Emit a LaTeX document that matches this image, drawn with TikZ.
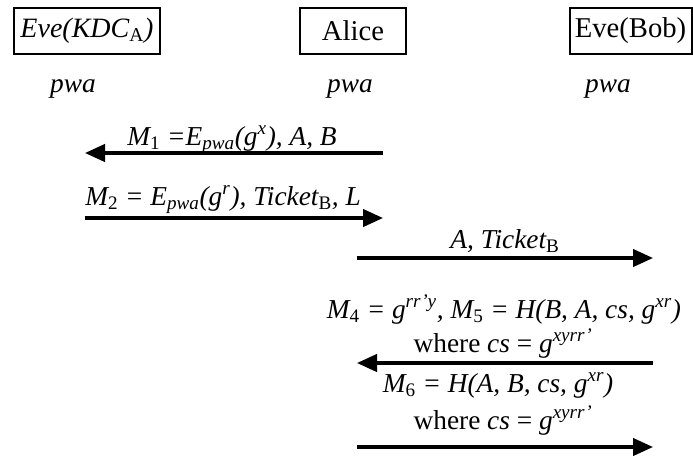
\documentclass[tikz,border=0pt]{standalone}
\usepackage{fontspec}
\setmainfont{Liberation Serif}
\usetikzlibrary{arrows.meta,positioning}
\tikzset{
  partybox/.style={
    rectangle, draw=black, line width=1.5pt,
    minimum height=35pt, inner xsep=2pt, inner ysep=2pt,
    font=\fontsize{21.5}{25}\selectfont
  },
  keylabel/.style={font=\fontsize{20.5}{24}\selectfont\itshape},
  msglabel/.style={anchor=base, inner sep=0pt,
    font=\fontsize{20.5}{24}\selectfont\itshape},
  msgarrow/.style={-{Triangle[length=15pt,width=13pt]}, line width=2.4pt}
}

\begin{document}
\begin{tikzpicture}[x=0.75pt,y=-0.75pt]
  \useasboundingbox (0,0) rectangle (693,455);

  % parties
  \node[partybox, minimum width=110pt, font=\fontsize{21}{25}\selectfont\itshape] (kdc) at (87,31)
    {Eve(KDC\textsubscript{\upshape A})};
  \node[partybox, minimum width=80pt] (alice) at (353,31) {Alice};
  \node[partybox, minimum width=91.5pt] (bob) at (630.5,31) {Eve(Bob)};

  % shared password
  \node[keylabel] (pwkdc) at (73,89) {pwa};
  \node[keylabel] (pwalice) at (350,89) {pwa};
  \node[keylabel] (pwbob) at (608,89) {pwa};

  % arrow ends
  \coordinate (m1from) at (383,153);
  \coordinate (m1to) at (85,153);
  \coordinate (m2from) at (85,218);
  \coordinate (m2to) at (383,218);
  \coordinate (m3from) at (357,258);
  \coordinate (m3to) at (653,258);
  \coordinate (m4from) at (653,363);
  \coordinate (m4to) at (357,363);
  \coordinate (m6from) at (357,447);
  \coordinate (m6to) at (653,447);

  \draw[msgarrow] (m1from) -- (m1to);
  \draw[msgarrow] (m2from) -- (m2to);
  \draw[msgarrow] (m3from) -- (m3to);
  \draw[msgarrow] (m4from) -- (m4to);
  \draw[msgarrow] (m6from) -- (m6to);

  % messages
  \node[msglabel] (msg1) at (232,145)
    {M\textsubscript{\upshape 1} =E\textsubscript{pwa}(g\textsuperscript{x}), A, B};
  \node[msglabel, anchor=base west] (msg2) at (85,205)
    {M\textsubscript{\upshape 2} = E\textsubscript{pwa}(g\textsuperscript{r}), Ticket\textsubscript{\upshape B}, L};
  \node[msglabel] (msg3) at (505,248)
    {A, Ticket\textsubscript{\upshape B}};
  \node[msglabel] (msg4) at (504,318)
    {M\textsubscript{\upshape 4} = g\textsuperscript{rr’y}, M\textsubscript{\upshape 5} = H(B, A, cs, g\textsuperscript{xr})};
  \node[msglabel] (where1) at (503,352)
    {\upshape where \itshape cs \upshape = \itshape g\textsuperscript{xyrr’}};
  \node[msglabel] (msg6) at (498,392)
    {M\textsubscript{\upshape 6} = H(A, B, cs, g\textsuperscript{xr})};
  \node[msglabel] (where2) at (503,429)
    {\upshape where \itshape cs \upshape = \itshape g\textsuperscript{xyrr’}};
\end{tikzpicture}
\end{document}
